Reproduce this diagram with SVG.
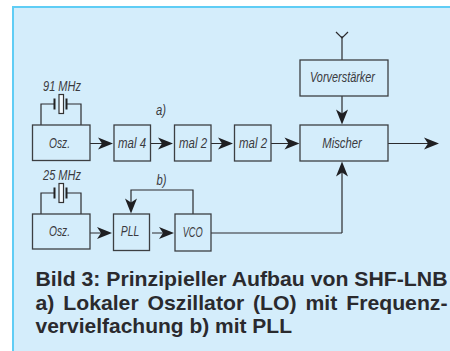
<svg xmlns="http://www.w3.org/2000/svg" width="450" height="351" viewBox="0 0 450 351">
<style>
.b{fill:none;stroke:#3c3f42;stroke-width:1.3}
.w{fill:none;stroke:#2b2b2e;stroke-width:1.2}
.h{fill:#1f1f22;stroke:none}
.t{font-family:"Liberation Sans",Arial,sans-serif;font-style:italic;font-size:14px;fill:#3a3a3e;text-anchor:middle}
.c{font-family:"Liberation Sans",Arial,sans-serif;font-weight:bold;font-size:21px;fill:#2a2a2e}
</style>
<defs>
<path id="ar" class="h" d="M0 0L-15 -6L-11 0L-15 6Z"/>
<g id="xt">
<path class="w" d="M41 21V0H54M67 0H81V21"/>
<path d="M54.500 -5.500V5.500M66.500 -5.500V5.500" fill="none" stroke="#222" stroke-width="2"/>
<rect x="59" y="-9.500" width="4.500" height="19" fill="#f4fbff" stroke="#333" stroke-width="1.200"/>
</g>
</defs>
<rect width="450" height="351" fill="#fff"/>
<rect x="12" y="6" width="438" height="345" fill="#d4edfb"/>
<path d="M13 351V7H450" fill="none" stroke="#5fcdf5" stroke-width="2"/>
<g id="connectors">
<path class="w" d="M90 143.500H105M150 143.500H165M211 143.500H225M271 143.500H291M388 143.500H430M342 36V60M342 96V118M342 233V170M90 233H104M152 233H166M211 233H342M193 214V190H131V205"/>
<path class="w" d="M336 32L342 38L348 32"/>
<use href="#ar" x="113" y="143.500"/>
<use href="#ar" x="173" y="143.500"/>
<use href="#ar" x="233" y="143.500"/>
<use href="#ar" x="299.500" y="143.500"/>
<use href="#ar" x="439" y="143.500"/>
<use href="#ar" transform="translate(342 124.500) rotate(90)"/>
<use href="#ar" transform="translate(342 161.500) rotate(-90)"/>
<use href="#ar" x="112" y="233"/>
<use href="#ar" x="174" y="233"/>
<use href="#ar" transform="translate(131 213.500) rotate(90)"/>
</g>
<g id="xtal1"><use href="#xt" y="104"/><text class="t" x="62" y="91" textLength="38" lengthAdjust="spacingAndGlyphs">91 MHz</text></g>
<g id="xtal2"><use href="#xt" y="193"/><text class="t" x="62" y="180" textLength="38" lengthAdjust="spacingAndGlyphs">25 MHz</text></g>
<g id="osz1"><rect class="b" x="32.500" y="125" width="57.500" height="35.500"/><text class="t" x="59.500" y="147.700" textLength="21" lengthAdjust="spacingAndGlyphs">Osz.</text></g>
<g id="mal4"><rect class="b" x="114" y="125" width="36.500" height="36"/><text class="t" x="132" y="147.700" textLength="28" lengthAdjust="spacingAndGlyphs">mal 4</text></g>
<g id="mal2a"><rect class="b" x="174.500" y="125" width="36.500" height="36"/><text class="t" x="193" y="147.700" textLength="28" lengthAdjust="spacingAndGlyphs">mal 2</text></g>
<g id="mal2b"><rect class="b" x="234.500" y="125" width="36.500" height="36"/><text class="t" x="253" y="147.700" textLength="28" lengthAdjust="spacingAndGlyphs">mal 2</text></g>
<g id="mischer"><rect class="b" x="300" y="125" width="88" height="36"/><text class="t" x="342" y="147.700" textLength="39.500" lengthAdjust="spacingAndGlyphs">Mischer</text></g>
<g id="vorv"><rect class="b" x="300" y="60" width="88" height="36"/><text class="t" x="342.500" y="82" textLength="65" lengthAdjust="spacingAndGlyphs">Vorverstärker</text></g>
<g id="osz2"><rect class="b" x="32.500" y="214" width="57.500" height="35"/><text class="t" x="59.500" y="236" textLength="21" lengthAdjust="spacingAndGlyphs">Osz.</text></g>
<g id="pll"><rect class="b" x="113.500" y="214" width="36" height="36.500"/><text class="t" x="130" y="236" textLength="18.500" lengthAdjust="spacingAndGlyphs">PLL</text></g>
<g id="vco"><rect class="b" x="175" y="214" width="36" height="37"/><text class="t" x="192.700" y="237" textLength="20" lengthAdjust="spacingAndGlyphs">VCO</text></g>
<text class="t" x="161" y="115" textLength="10" lengthAdjust="spacingAndGlyphs">a)</text>
<text class="t" x="161.500" y="185" textLength="10" lengthAdjust="spacingAndGlyphs">b)</text>
<text class="c" x="35.500" y="286" textLength="412" lengthAdjust="spacingAndGlyphs">Bild 3: Prinzipieller Aufbau von SHF-LNB</text>
<text class="c" x="35.500" y="310" word-spacing="3" textLength="412" lengthAdjust="spacingAndGlyphs">a) Lokaler Oszillator (LO) mit Frequenz-</text>
<text class="c" x="35.500" y="333" textLength="256.500" lengthAdjust="spacingAndGlyphs">vervielfachung b) mit PLL</text>
</svg>
